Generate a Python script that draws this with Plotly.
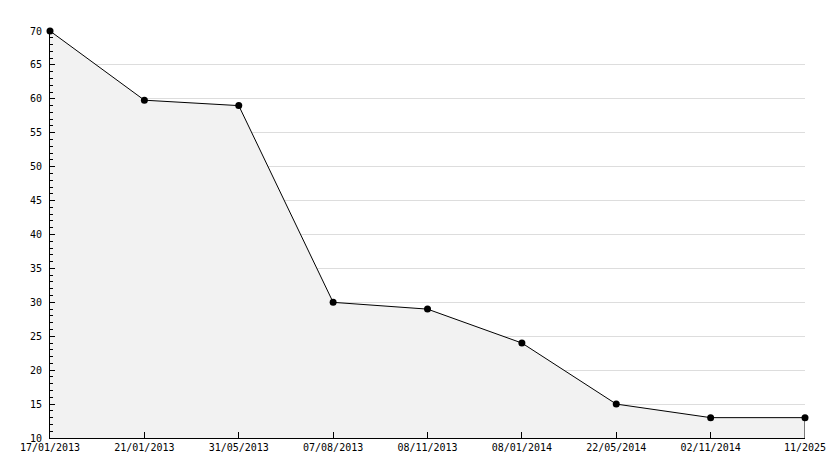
import plotly.graph_objects as go

dates = ["17/01/2013", "21/01/2013", "31/05/2013", "07/08/2013", "08/11/2013",
         "08/01/2014", "22/05/2014", "02/11/2014", "11/2025"]
values = [70, 59.8, 59, 30, 29, 24, 15, 13, 13]
y_min, y_max = 10, 70

font = dict(family="DejaVu Sans Mono", size=10, color="#000000")

fig = go.Figure()
fig.add_trace(go.Scatter(
    x=list(range(len(dates))), y=values, mode="lines+markers",
    fill="tozeroy", fillcolor="#f2f2f2",
    line=dict(color="#000000", width=1),
    marker=dict(color="#000000", size=7, symbol="circle"),
    hoverinfo="skip", showlegend=False, cliponaxis=False,
))
# closing edge of the area at the last point
fig.add_trace(go.Scatter(
    x=[len(dates) - 1, len(dates) - 1], y=[values[-1], y_min], mode="lines",
    line=dict(color="#000000", width=1), showlegend=False, hoverinfo="skip",
))

fig.update_layout(
    width=834, height=468,
    margin=dict(l=50, r=29, t=31, b=30, autoexpand=False),
    paper_bgcolor="#ffffff", plot_bgcolor="#ffffff",
    font=font,
)
fig.update_xaxes(
    range=[0, len(dates) - 1], tickmode="array",
    tickvals=list(range(len(dates))), ticktext=dates,
    showgrid=False, zeroline=False, automargin=False,
    showline=True, linecolor="#000000", linewidth=1,
    ticks="inside", ticklen=6, tickcolor="#000000",
    tickfont=font,
)
fig.update_yaxes(
    range=[y_min, y_max], dtick=5, tick0=0,
    showgrid=True, gridcolor="#dddddd", gridwidth=1,
    zeroline=False, automargin=False,
    showline=True, linecolor="#000000", linewidth=1,
    ticks="inside", ticklen=5, tickcolor="#000000",
    ticklabelstandoff=5,
    minor=dict(dtick=1, ticks="inside", ticklen=3, tickcolor="#000000", showgrid=False),
    tickfont=font,
)
fig.write_html("out.html", config={"displayModeBar": False},
               post_script="document.body.style.margin='0';document.body.style.overflow='hidden';")
